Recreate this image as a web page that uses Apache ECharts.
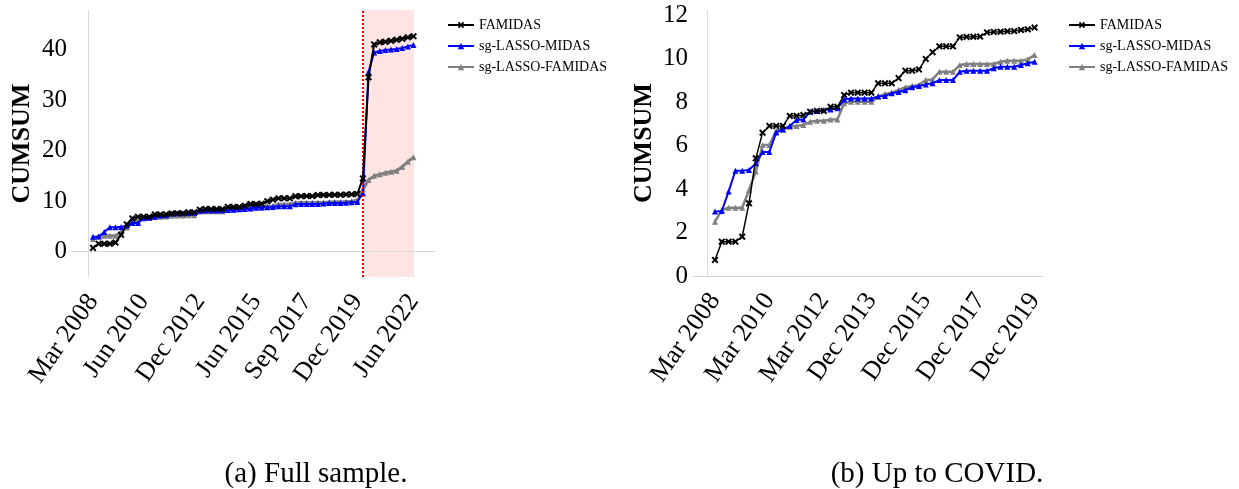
<!DOCTYPE html>
<html>
<head>
<meta charset="utf-8">
<script src="https://cdn.jsdelivr.net/npm/echarts@6/dist/echarts.min.js"></script>
<style>
  html, body { margin: 0; padding: 0; background: #fff; }
  #main { width: 1239px; height: 489px; }
</style>
</head>
<body>
<div id="main"></div>
<script>
  // quarterly evaluation dates, Mar 2008 .. Jun 2022
  const months = ['Mar', 'Jun', 'Sep', 'Dec']
  const quarters = []
  for (let y = 2008; y <= 2022; y++) {
    months.forEach(m => quarters.push(m + ' ' + y))
  }
  quarters.length = quarters.indexOf('Jun 2022') + 1

  const fullTicks = ['Mar 2008', 'Jun 2010', 'Dec 2012', 'Jun 2015', 'Sep 2017', 'Dec 2019', 'Jun 2022']
  const preCovidTicks = ['Mar 2008', 'Mar 2010', 'Mar 2012', 'Dec 2013', 'Dec 2015', 'Dec 2017', 'Dec 2019']
  const covidStart = 'Mar 2020'
  const preCovidEnd = 'Dec 2019'

  // cumulated sums, one value per quarter
  const famidas = [0.74, 1.58, 1.58, 1.58, 1.81, 3.34, 5.41, 6.59, 6.9, 6.9, 6.9, 7.36, 7.36, 7.4, 7.55, 7.59,
    7.59, 7.78, 7.78, 8.32, 8.43, 8.43, 8.43, 8.43, 8.86, 8.86, 8.86, 9.1, 9.44, 9.44, 9.5, 9.98,
    10.29, 10.56, 10.56, 10.56, 10.97, 10.99, 11.0, 11.01, 11.2, 11.22, 11.23, 11.25, 11.26, 11.31, 11.34, 11.42,
    14.5, 34.5, 41.0, 41.4, 41.5, 41.7, 41.9, 42.1, 42.4, 42.6]
  const sgLassoMidas = [2.96, 2.99, 3.88, 4.84, 4.84, 4.87, 5.18, 5.7, 5.7, 6.6, 6.74, 6.9, 7.17, 7.2, 7.55, 7.59,
    7.63, 7.66, 7.71, 8.11, 8.16, 8.16, 8.16, 8.16, 8.26, 8.28, 8.4, 8.46, 8.54, 8.68, 8.74, 8.81,
    8.86, 9.01, 9.01, 9.01, 9.39, 9.44, 9.44, 9.44, 9.44, 9.55, 9.62, 9.62, 9.62, 9.7, 9.78, 9.85,
    11.55, 35.6, 39.4, 39.7, 39.9, 40.0, 40.1, 40.3, 40.6, 40.9]
  const sgLassoFamidas = [2.5, 3.03, 3.14, 3.14, 3.14, 3.95, 4.8, 6.02, 6.02, 6.68, 6.74, 6.86, 6.9, 6.94, 7.09, 7.14,
    7.14, 7.2, 7.2, 7.94, 8.01, 8.01, 8.01, 8.01, 8.24, 8.37, 8.43, 8.55, 8.68, 8.74, 8.78, 9.01,
    9.04, 9.39, 9.39, 9.39, 9.7, 9.75, 9.75, 9.75, 9.75, 9.75, 9.85, 9.9, 9.9, 9.9, 9.96, 10.16,
    12.3, 14.2, 15.0, 15.3, 15.6, 15.8, 16.0, 16.8, 17.8, 18.7]

  const names = ['FAMIDAS', 'sg-LASSO-MIDAS', 'sg-LASSO-FAMIDAS']
  const crossMark = 'path://M0,2L2,0L5,3L8,0L10,2L7,5L10,8L8,10L5,7L2,10L0,8L3,5Z'
  const serif = 'Liberation Serif'

  let chart = echarts.init(document.getElementById('main'))

  function toPoints (arr, n) {
    return arr.slice(0, n).map((v, i) => [i, v])
  }

  function threeLines (idx, n, w) {
    return [
      {
        name: names[0], type: 'line', xAxisIndex: idx, yAxisIndex: idx, z: 5,
        data: toPoints(famidas, n), symbol: crossMark, symbolSize: 7,
        lineStyle: {color: '#000', width: w[0]}, itemStyle: {color: '#000'}
      },
      {
        name: names[1], type: 'line', xAxisIndex: idx, yAxisIndex: idx, z: 4,
        data: toPoints(sgLassoMidas, n), symbol: 'triangle', symbolSize: 6,
        lineStyle: {color: '#0000ff', width: w[1]}, itemStyle: {color: '#0000ff'}
      },
      {
        name: names[2], type: 'line', xAxisIndex: idx, yAxisIndex: idx, z: 3,
        data: toPoints(sgLassoFamidas, n), symbol: 'triangle', symbolSize: 6,
        lineStyle: {color: '#808080', width: w[2]}, itemStyle: {color: '#808080'}
      }
    ]
  }

  // light gray frame lines: zero line and the value axis line
  function frame (idx, axisX) {
    return {
      type: 'line', xAxisIndex: idx, yAxisIndex: idx, z: 1, data: [], silent: true,
      markLine: {
        silent: true, symbol: 'none', label: {show: false},
        lineStyle: {color: '#d9d9d9', width: 1, type: 'solid'},
        data: [{yAxis: 0}, {xAxis: axisX}]
      }
    }
  }

  const nCovid = quarters.indexOf(covidStart)
  const nPre = quarters.indexOf(preCovidEnd) + 1
  const nAll = quarters.length

  const xLabel = {
    fontSize: 26, color: '#000', rotate: 55, margin: 20, fontFamily: serif,
    formatter: v => quarters[Math.round(v)]
  }
  const yLabel = {fontSize: 25, color: '#000', margin: 5, fontFamily: serif}
  const yName = {fontWeight: 'bold', fontSize: 26, color: '#000', fontFamily: serif}
  const legendBase = {
    orient: 'vertical', top: 18, padding: 0, data: names, itemWidth: 26, itemHeight: 8, itemGap: 7,
    textStyle: {fontSize: 14, color: '#000', fontFamily: serif}
  }
  const captionFont = '29px "Liberation Serif"'

  chart.setOption({
    animation: false,
    textStyle: {fontFamily: serif},
    legend: [
      Object.assign({left: 447}, legendBase),
      Object.assign({left: 1068}, legendBase)
    ],
    grid: [
      {left: 72, top: 10, width: 363, height: 267},
      {left: 693, top: 10, width: 350, height: 266}
    ],
    xAxis: [
      {
        gridIndex: 0, type: 'value', min: -3.735, max: 60.82,
        axisLine: {show: false, onZero: false}, axisTick: {show: false}, splitLine: {show: false},
        axisLabel: Object.assign({customValues: fullTicks.map(t => quarters.indexOf(t))}, xLabel)
      },
      {
        gridIndex: 1, type: 'value', min: -3.235, max: 48.24,
        axisLine: {show: false, onZero: false}, axisTick: {show: false}, splitLine: {show: false},
        axisLabel: Object.assign({customValues: preCovidTicks.map(t => quarters.indexOf(t))}, xLabel)
      }
    ],
    yAxis: [
      {
        gridIndex: 0, type: 'value', min: -5, max: 47.8, interval: 5,
        axisLine: {show: false, onZero: false}, axisTick: {show: false}, splitLine: {show: false},
        axisLabel: Object.assign({formatter: v => (v >= 0 && v % 10 === 0) ? v : ''}, yLabel),
        name: 'CUMSUM', nameLocation: 'middle', nameGap: 37, nameTextStyle: yName
      },
      {
        gridIndex: 1, type: 'value', min: 0, max: 12.23, interval: 2,
        axisLine: {show: false, onZero: false}, axisTick: {show: false}, splitLine: {show: false},
        axisLabel: Object.assign({formatter: v => (v % 2 === 0) ? v : ''}, yLabel),
        name: 'CUMSUM', nameLocation: 'middle', nameGap: 36, nameTextStyle: yName
      }
    ],
    graphic: [
      {
        type: 'text', style: {x: 316, y: 474, text: '(a) Full sample.', align: 'center',
          verticalAlign: 'middle', font: captionFont, fill: '#000'}
      },
      {
        type: 'text', style: {x: 937, y: 474, text: '(b) Up to COVID.', align: 'center',
          verticalAlign: 'middle', font: captionFont, fill: '#000'}
      }
    ],
    series: [
      frame(0, -0.89),
      frame(1, -1.08),
      ...threeLines(0, nAll, [2, 2, 3]),
      ...threeLines(1, nPre, [1.5, 2, 2.5]),
      {
        // COVID period: shaded band over the lines and dotted start line
        type: 'line', xAxisIndex: 0, yAxisIndex: 0, z: 10, data: [], silent: true,
        markArea: {
          silent: true,
          itemStyle: {color: 'rgba(255,0,0,0.105)'},
          data: [[{xAxis: nCovid - 0.1}, {xAxis: nAll - 1 + 0.1}]]
        },
        markLine: {
          silent: true, symbol: 'none', label: {show: false},
          lineStyle: {color: '#ff0000', width: 2, type: [2, 2]},
          data: [{xAxis: nCovid - 0.1}]
        }
      }
    ]
  })
</script>
</body>
</html>
